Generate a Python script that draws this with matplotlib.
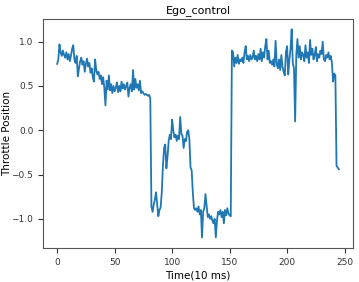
import numpy as np
import matplotlib
matplotlib.use("Agg")
import matplotlib.pyplot as plt

throttle = [
    0.75, 0.80, 0.97, 0.88, 0.84, 0.90, 0.85, 0.82, 0.88, 0.80,
    0.86, 0.78, 0.84, 0.92, 0.96, 0.80, 0.76, 0.84, 0.61, 0.70,
    0.78, 0.82, 0.74, 0.78, 0.66, 0.75, 0.81, 0.72, 0.76, 0.65,
    0.70, 0.60, 0.55, 0.80, 0.68, 0.63, 0.66, 0.58, 0.62, 0.52,
    0.60, 0.48, 0.28, 0.56, 0.46, 0.62, 0.45, 0.52, 0.42, 0.50,
    0.44, 0.48, 0.54, 0.43, 0.50, 0.44, 0.55, 0.47, 0.52, 0.46,
    0.50, 0.54, 0.38, 0.48, 0.52, 0.44, 0.68, 0.46, 0.58, 0.48,
    0.52, 0.45, 0.56, 0.42, 0.44, 0.42, 0.40, 0.41, 0.40, 0.39,
    0.40, 0.36, -0.86, -0.92, -0.84, -0.78, -0.70, -0.84, -0.97, -0.90,
    -0.87, -0.70, -0.40, -0.20, -0.16, -0.43, -0.30, -0.12, -0.05, -0.10,
    0.12, 0.00, -0.08, -0.05, -0.12, -0.06, -0.10, 0.15, -0.04, -0.06,
    -0.20, -0.10, -0.12, -0.02, 0.00, -0.10, -0.42, -0.45, -0.70, -0.88,
    -0.90, -0.88, -0.92, -0.86, -0.95, -0.90, -1.21, -0.92, -0.88, -0.72,
    -0.85, -0.98, -0.95, -1.00, -0.97, -1.02, -1.05, -1.00, -1.21, -1.02,
    -0.92, -0.95, -0.90, -0.98, -0.92, -1.05, -0.90, -0.96, -0.88, -0.94,
    -0.96, -0.97, 0.90, 0.88, 0.72, 0.82, 0.76, 0.85, 0.75, 0.80,
    0.78, 0.82, 0.76, 0.88, 0.95, 0.80, 0.84, 0.78, 0.85, 0.80,
    0.82, 0.90, 0.80, 0.84, 0.78, 0.86, 0.80, 0.92, 0.78, 0.88,
    0.82, 0.95, 1.03, 0.80, 0.90, 0.76, 0.78, 0.74, 0.80, 0.72,
    1.01, 0.75, 0.70, 0.80, 0.68, 0.85, 0.72, 0.66, 0.62, 0.88,
    0.95, 0.63, 0.80, 0.92, 1.14, 0.75, 0.70, 0.10, 0.85, 1.03,
    0.82, 0.95, 0.80, 0.88, 0.85, 0.78, 0.96, 0.82, 0.88, 0.76,
    1.02, 0.85, 0.92, 0.80, 0.85, 0.94, 0.78, 0.86, 0.82, 0.90,
    0.86, 1.00, 0.80, 0.78, 0.85, 0.82, 0.88, 0.80, 0.84, 0.76,
    0.55, 0.64, 0.62, -0.40, -0.42, -0.44,
]
t = np.arange(len(throttle))

fig = plt.figure(figsize=(3.59, 2.82), dpi=100)
ax = fig.add_axes([0.120, 0.121, 0.863, 0.812])
ax.plot(t, throttle, color='#1f77b4', linewidth=1.3)

ax.set_title('Ego_control', fontsize=8, pad=4)
ax.set_xlabel('Time(10 ms)', fontsize=7.5, labelpad=3)
ax.set_ylabel('Throttle Position', fontsize=7.5)
ax.yaxis.set_label_coords(-0.1, 0.5)
ax.set_xticks([0, 50, 100, 150, 200, 250])
ax.set_yticks([-1.0, -0.5, 0.0, 0.5, 1.0])
ax.tick_params(labelsize=6.5, colors='#333333')
for sp in ax.spines.values():
    sp.set_color('#555555')

fig.savefig('out.png', dpi=100)
